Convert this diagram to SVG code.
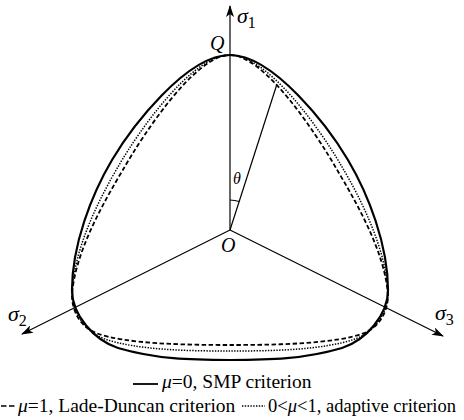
<svg xmlns="http://www.w3.org/2000/svg" width="464" height="420" viewBox="0 0 464 420">
<style>
text{font-family:"Liberation Serif","Times New Roman",serif;fill:#000}
.it{font-style:italic}
.lbl{font-size:20px}
.sig{font-size:22px;font-style:italic}
.sub{font-size:16px;font-style:normal}
.leg{font-size:19.5px}
.axis{stroke:#000;stroke-width:1.2;fill:none}
.smp{stroke:#000;stroke-width:2.2;fill:none}
.ld{stroke:#000;stroke-width:1.8;fill:none;stroke-dasharray:4.5 2.5}
.ad{stroke:#000;stroke-width:1.5;fill:none;stroke-dasharray:1.4 1.4}
</style>
<defs>
<marker id="arr" viewBox="0 0 12 8" refX="11" refY="4" markerWidth="12" markerHeight="8" markerUnits="userSpaceOnUse" orient="auto">
<path d="M0,0 L12,4 L0,8 L3,4 Z" fill="#000"/>
</marker>
</defs>
<rect width="464" height="420" fill="#fff"/>
<g id="curves" transform="translate(-1,0)">
<path id="smp-curve" class="smp" d="M231,55 C275,55 330,128 349,160 C369.4,194.4 389,245 389,290 C389,315 366.75,340.5 343,348 C304.6,359.2 271,360 231,360 C191,360 157.4,359.2 119,348 C95.25,340.5 73,315 73,290 C73,245 92.6,194.4 113,160 C132,128 187,55 231,55 Z"/>
<path id="ld-curve" class="ld" d="M231,55 C266,55 318,135 337,168 C357.4,202.4 386,252 389,295 C389,312 380,327 365,333 C337,344 275,345 231,345 C187,345 125,344 97,333 C82,327 73,312 73,295 C76,252 104.6,202.4 125,168 C144,135 196,55 231,55 Z"/>
<path id="ad-curve" class="ad" d="M231,55 C269.6,55 322.8,132.2 341.8,164.8 C362.2,199.2 387.2,249.2 389,293 C389,313.2 374.7,332.4 356.2,339 C324,350.1 273.4,351 231,351 C188.6,351 138,350.1 105.8,339 C87.3,332.4 73,313.2 73,293 C74.8,249.2 99.8,199.2 120.2,164.8 C139.2,132.2 192.4,55 231,55 Z"/>
</g>
<g id="connectors">
<line class="axis" x1="230" y1="230" x2="230" y2="6" marker-end="url(#arr)"/>
<line class="axis" x1="230" y1="230" x2="22" y2="334" marker-end="url(#arr)"/>
<line class="axis" x1="230" y1="230" x2="443" y2="336" marker-end="url(#arr)"/>
<line class="axis" x1="230" y1="230" x2="277" y2="84" stroke-width="1.1"/>
<path class="axis" d="M230,200 A30,30 0 0,1 239.2,201.5"/>
</g>
<g id="labels">
<text class="sig" x="237" y="23">σ<tspan class="sub" dy="5">1</tspan></text>
<text class="sig" x="8" y="321">σ<tspan class="sub" dy="5">2</tspan></text>
<text class="sig" x="435" y="320">σ<tspan class="sub" dy="5">3</tspan></text>
<text class="lbl it" x="210" y="50">Q</text>
<text class="lbl it" x="221" y="252">O</text>
<text class="it" x="233" y="184" font-size="16">θ</text>
</g>
<g id="legend">
<line x1="133" y1="384" x2="158" y2="384" stroke="#000" stroke-width="1.8"/>
<text class="leg" x="162" y="388"><tspan class="it">μ</tspan>=0, SMP criterion</text>
<line x1="1" y1="406" x2="16" y2="406" stroke="#000" stroke-width="1.5" stroke-dasharray="5.5 2.5"/>
<text class="leg" x="18" y="412"><tspan class="it">μ</tspan>=1, Lade-Duncan criterion</text>
<line x1="242" y1="406" x2="265" y2="406" stroke="#000" stroke-width="1.3" stroke-dasharray="1.4 1.4"/>
<text class="leg" x="268" y="412" textLength="188" lengthAdjust="spacingAndGlyphs">0&lt;<tspan class="it">μ</tspan>&lt;1, adaptive criterion</text>
</g>
</svg>
